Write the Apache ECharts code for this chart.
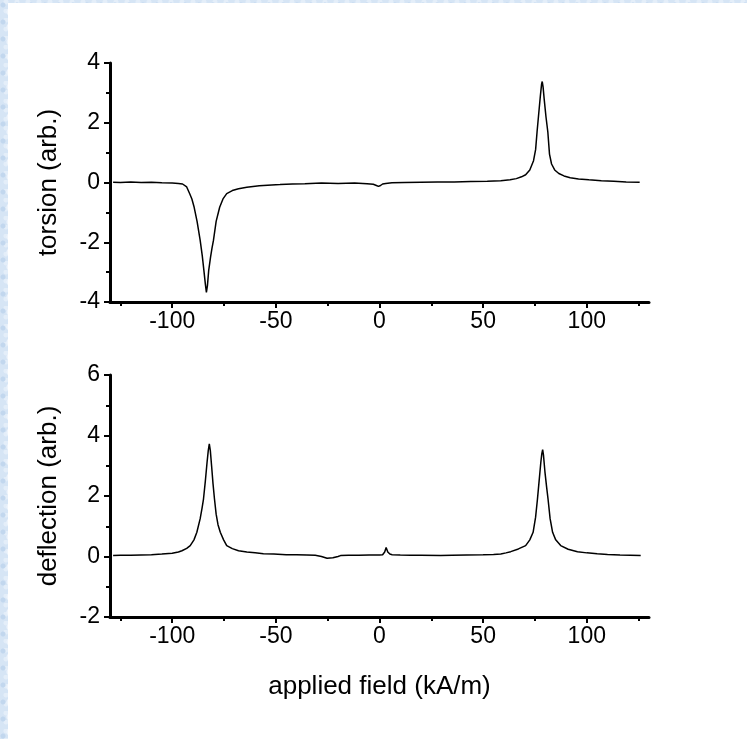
<!DOCTYPE html>
<html>
<head>
<meta charset="utf-8">
<script src="https://cdn.jsdelivr.net/npm/echarts@6/dist/echarts.min.js"></script>
<style>
html,body{margin:0;padding:0;width:747px;height:739px;overflow:hidden;}
body{background-color:#d6e5f5;
background-image:radial-gradient(circle at 3px 5px,#c2d7ee 2px,transparent 3px),radial-gradient(circle at 10px 12px,#eef4fb 3px,transparent 4px),radial-gradient(circle at 6px 2px,#e4eef9 2px,transparent 3px);
background-size:14px 17px,19px 15px,11px 9px;}
#chart{position:absolute;left:8px;top:3px;width:739px;height:736px;background:#ffffff;}
</style>
</head>
<body>
<div id="chart"></div>
<script>
// ---- data ----
const torsionField = [-128.5,-125,-120,-115,-110,-105,-100,-97,-95,-93,-91.6,-90.5,-89.4,-88,-86.5,-85.5,-84.7,-84,-83.5,-83,-82.4,-81.5,-80.8,-80.1,-78.8,-77.1,-75.5,-73.7,-71,-68,-64,-58,-52,-48,-42,-36,-28,-20,-12,-6,-3,-1.5,-0.5,0.5,1.5,3,6,12,20,28,36,44,52,58.5,63,66,68.5,70.5,72.5,74.3,75.3,76,76.8,77.6,78.2,78.5,78.9,79.5,80.3,81.2,82,83,84.5,86.5,89,92,96,101,107,113,119,125.5];
const torsionValue = [0.01,0.0,0.02,0.0,0.01,-0.01,-0.02,-0.03,-0.05,-0.15,-0.37,-0.55,-0.83,-1.3,-1.94,-2.45,-2.95,-3.4,-3.68,-3.45,-2.95,-2.5,-2.2,-1.94,-1.3,-0.83,-0.55,-0.37,-0.27,-0.21,-0.16,-0.11,-0.08,-0.07,-0.05,-0.04,-0.02,-0.03,-0.02,-0.04,-0.06,-0.1,-0.13,-0.1,-0.05,-0.03,-0.01,0.0,0.01,0.02,0.02,0.03,0.04,0.06,0.09,0.13,0.19,0.26,0.42,0.73,1.1,1.69,2.3,2.9,3.3,3.38,3.2,2.75,2.2,1.69,0.95,0.62,0.42,0.3,0.22,0.16,0.12,0.09,0.06,0.04,0.02,0.01];

const deflectionField = [-128.5,-125,-120,-115,-110,-105,-100,-97,-95.3,-93,-91.3,-89.5,-88.1,-86.5,-85.6,-84.9,-84,-83.2,-82.6,-82.1,-81.6,-81,-80.3,-79.6,-78.8,-77.9,-76.8,-75.2,-73.7,-71,-68,-64,-60,-56,-51,-45,-40,-35,-31,-28,-25.3,-22.5,-20,-18.8,-15,-10,-5,0,1.5,2.5,3.2,4,5,6.1,10,15,20,29.5,35,42,50,55,58.5,61,63.3,67,70.5,72.5,74.1,75.3,76.2,77,77.8,78.3,78.7,79.1,79.8,80.6,81.3,82.3,83.5,85,87.4,91,95.5,100,105,110,116,121,126];
const deflectionValue = [0.03,0.04,0.04,0.05,0.06,0.08,0.11,0.15,0.19,0.27,0.36,0.55,0.8,1.25,1.6,1.9,2.5,3.1,3.5,3.72,3.5,3.0,2.4,1.9,1.4,1.05,0.8,0.55,0.36,0.26,0.19,0.15,0.12,0.09,0.08,0.06,0.06,0.05,0.04,0.0,-0.06,-0.04,0.0,0.03,0.04,0.04,0.05,0.05,0.06,0.15,0.3,0.15,0.08,0.06,0.05,0.04,0.04,0.03,0.04,0.05,0.06,0.07,0.08,0.12,0.16,0.25,0.36,0.55,0.8,1.3,1.9,2.5,3.1,3.4,3.53,3.35,2.8,2.3,1.9,1.25,0.8,0.55,0.36,0.24,0.16,0.12,0.09,0.07,0.05,0.04,0.03];

const xMajorTicks = [-100,-50,0,50,100];
const xMinorTicks = [-125,-75,-25,25,75,125];
const topYTitle = 'torsion (arb.)';
const bottomYTitle = 'deflection (arb.)';
const xTitle = 'applied field (kA/m)';

// ---- chart ----
const FONT = 'Liberation Sans, Arial, sans-serif';
const FS = 23;
const TFS = 26;
function pairs(xs, ys){ return xs.map((x,i)=>[x, ys[i]]); }

function xLabelAxis(gridIndex, withName){
  return {
    type:'value', gridIndex, min:-130, max:130, position:'bottom',
    splitLine:{show:false},
    axisLine:{onZero:false, lineStyle:{color:'#000', width:3}},
    axisTick:{show:false},
    axisLabel:{customValues:xMajorTicks, color:'#000', fontFamily:FONT, fontSize:FS, margin:8},
    name: withName ? xTitle : '', nameLocation:'middle', nameGap:57,
    nameTextStyle:{color:'#000', fontFamily:FONT, fontSize:TFS}
  };
}
function xTickAxis(gridIndex, values, len){
  return {
    type:'value', gridIndex, min:-130, max:130, position:'bottom',
    splitLine:{show:false},
    axisLine:{show:false, onZero:false},
    axisTick:{show:true, customValues:values, length:len, lineStyle:{color:'#000', width:2}},
    axisLabel:{show:false}
  };
}
function yAxis(gridIndex, min, max, title){
  return {
    type:'value', gridIndex, min, max, interval:2,
    splitLine:{show:false},
    axisLine:{show:true, onZero:false, lineStyle:{color:'#000', width:3}},
    axisTick:{show:true, length:6, lineStyle:{color:'#000', width:2}},
    minorTick:{show:true, splitNumber:2, length:4, lineStyle:{color:'#000', width:2}},
    axisLabel:{color:'#000', fontFamily:FONT, fontSize:FS, margin:10},
    name:title, nameLocation:'middle', nameGap:48,
    nameTextStyle:{color:'#000', fontFamily:FONT, fontSize:TFS}
  };
}

const chart = echarts.init(document.getElementById('chart'), null, {renderer:'canvas'});
chart.setOption({
  animation:false,
  backgroundColor:'#ffffff',
  grid:[
    {left:102, width:539, top:60, height:239},
    {left:102, width:539, top:372, height:242}
  ],
  xAxis:[
    xLabelAxis(0,false), xTickAxis(0,xMajorTicks,6), xTickAxis(0,xMinorTicks,4),
    xLabelAxis(1,true), xTickAxis(1,xMajorTicks,6), xTickAxis(1,xMinorTicks,4)
  ],
  yAxis:[yAxis(0,-4,4,topYTitle), yAxis(1,-2,6,bottomYTitle)],
  series:[
    {type:'line', xAxisIndex:0, yAxisIndex:0, data:pairs(torsionField, torsionValue),
     showSymbol:false, lineStyle:{color:'#000', width:1.5}},
    {type:'line', xAxisIndex:3, yAxisIndex:1, data:pairs(deflectionField, deflectionValue),
     showSymbol:false, lineStyle:{color:'#000', width:1.5}}
  ]
});
</script>
</body>
</html>
